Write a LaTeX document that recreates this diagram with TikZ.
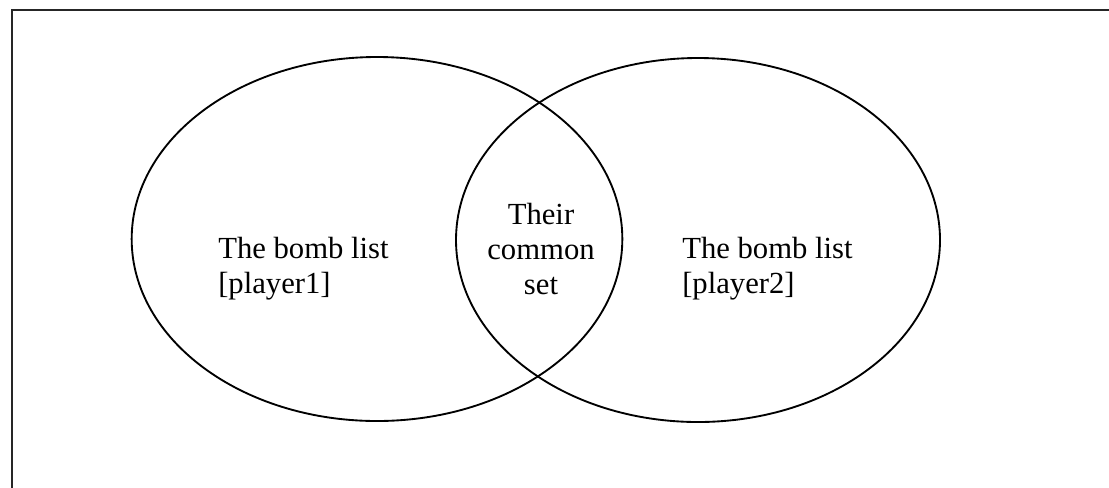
\documentclass[tikz,border=0pt]{standalone}
\usepackage{fontspec}
\setmainfont{Liberation Serif}
\usepackage{tikz}
\usetikzlibrary{shapes.geometric}

\begin{document}
\begin{tikzpicture}[x=0.75pt,y=-0.75pt,
                    setshape/.style={draw,ellipse,line width=1.4pt,inner sep=0pt},
                    settext/.style={inner sep=0pt,font=\fontsize{23}{26.25}\selectfont}]

\useasboundingbox (0,0) rectangle (1109,487);

\begin{scope}
\clip (0,0) rectangle (1109,487);
%outer frame, runs off the page at the right and the bottom
\draw [line width=1.8pt,black!85](12,10) rectangle (1130,510);
\end{scope}

%left set
\node [setshape,minimum width=368pt,minimum height=273pt] (player1) at (377,239) {};
%right set
\node [setshape,minimum width=363pt,minimum height=273pt] (player2) at (698,240) {};

%labels
\node [settext,anchor=north west,align=left] (list1) at (218,237) {The bomb list\\{[}player1{]}};
\node [settext,anchor=north,align=center] (common) at (541,203) {Their\\common\\set};
\node [settext,anchor=north west,align=left] (list2) at (682,237) {The bomb list\\{[}player2{]}};

\end{tikzpicture}
\end{document}
